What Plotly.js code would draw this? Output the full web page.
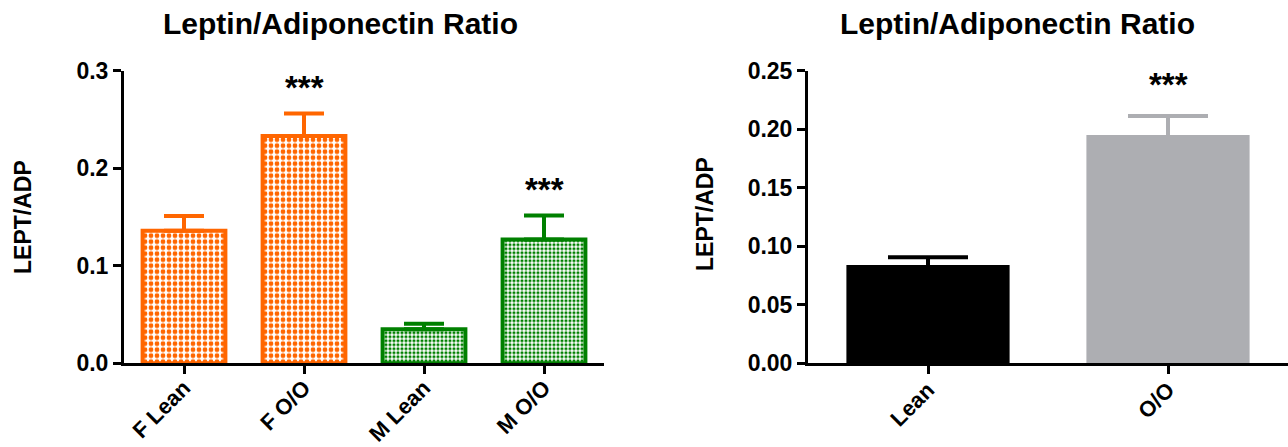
<!DOCTYPE html>
<html><head><meta charset="utf-8">
<script src="https://cdn.plot.ly/plotly-3.0.1.min.js"></script>
<style>html,body{margin:0;padding:0;background:#fff;} #chart{width:1288px;height:447px;}</style>
</head><body><div id="chart"></div>
<script>
// ---- data ----
const leftCategories = ['F Lean', 'F O/O', 'M Lean', 'M O/O'];
const femaleCategories = ['F Lean', 'F O/O'];
const femaleValues = [0.136, 0.233];
const femaleErrors = [0.015, 0.023];
const maleCategories = ['M Lean', 'M O/O'];
const maleValues = [0.035, 0.127];
const maleErrors = [0.0055, 0.0245];
const leftSig = ['', '***', '', '***'];
const leftTicks = [0, 0.1, 0.2, 0.3];

const rightCategories = ['Lean', 'O/O'];
const rightValues = [0.084, 0.195];
const rightErrors = [0.0067, 0.0162];
const rightSig = ['', '***'];
const rightTicks = [0, 0.05, 0.10, 0.15, 0.20, 0.25];

const chartTitle = 'Leptin/Adiponectin Ratio';
const yTitle = 'LEPT/ADP';

// ---- styling ----
const W = 1288, H = 447;
const FONT = 'Liberation Sans, Arial, Helvetica, sans-serif';
const ORANGE = '#FF6600', GREEN = '#008000', BLACK = '#000000', GREY = '#ADAEB2';
const px = v => v / W, py = v => (H - v) / H;
const yDomain = [py(363.3), py(70.7)];

function barTrace(cats, vals, errs, color, xa, ya, pattern, lineW, errW, hiddenMinus) {
  return {
    type: 'bar', x: cats, y: vals, xaxis: xa, yaxis: ya,
    width: 0.69,
    marker: {
      color: color,
      line: {color: color, width: lineW},
      pattern: pattern
    },
    // lower whisker kept inside the bar (same colour) so only the upper whisker shows
    error_y: {type: 'data', symmetric: false, array: errs, arrayminus: errs.map(() => hiddenMinus),
              color: color, thickness: 4, width: errW},
    hoverinfo: 'x+y', showlegend: false
  };
}

const data = [
  barTrace(femaleCategories, femaleValues, femaleErrors, ORANGE, 'x', 'y',
    {shape: '.', fillmode: 'replace', bgcolor: '#ffffff', fgcolor: ORANGE, size: 6, solidity: 0.5}, 4, 20, 0),
  barTrace(maleCategories, maleValues, maleErrors, GREEN, 'x', 'y',
    {shape: '.', fillmode: 'replace', bgcolor: '#ffffff', fgcolor: GREEN, size: 4, solidity: 0.5}, 4, 20, 0),
  barTrace([rightCategories[0]], [rightValues[0]], [rightErrors[0]], BLACK, 'x2', 'y2', {shape: ''}, 0, 40, 0.004),
  barTrace([rightCategories[1]], [rightValues[1]], [rightErrors[1]], GREY, 'x2', 'y2', {shape: ''}, 0, 40, 0.004)
];
data[2].width = 0.68; data[3].width = 0.68;

const axisCommon = {
  showline: true, linecolor: '#000', linewidth: 3, showgrid: false, zeroline: false,
  ticks: 'outside', ticklen: 8, tickwidth: 3, tickcolor: '#000', fixedrange: true
};

const annotations = [];
// titles
[[340, chartTitle], [1017, chartTitle]].forEach(([x, t]) => annotations.push({
  xref: 'paper', yref: 'paper', x: px(x), y: py(23), xanchor: 'center', yanchor: 'middle',
  text: t, showarrow: false, font: {family: FONT, size: 30, color: '#000', weight: 'bold'}
}));
// y titles
[[23, 217], [705, 214]].forEach(([x, y]) => annotations.push({
  xref: 'paper', yref: 'paper', x: px(x), y: py(y), xanchor: 'center', yanchor: 'middle',
  text: yTitle, textangle: -90, showarrow: false, font: {family: FONT, size: 23, color: '#000', weight: 'bold'}
}));
// significance stars
const allLeftVals = femaleValues.concat(maleValues), allLeftErrs = femaleErrors.concat(maleErrors);
leftCategories.forEach((c, i) => { if (leftSig[i]) annotations.push({
  xref: 'x', yref: 'y', x: c, y: allLeftVals[i] + allLeftErrs[i], yanchor: 'bottom', yshift: 6,
  text: leftSig[i], showarrow: false, font: {family: FONT, size: 33, color: '#000', weight: 'bold'}
}); });
rightCategories.forEach((c, i) => { if (rightSig[i]) annotations.push({
  xref: 'x2', yref: 'y2', x: c, y: rightValues[i] + rightErrors[i], yanchor: 'bottom', yshift: 11,
  text: rightSig[i], showarrow: false, font: {family: FONT, size: 33, color: '#000', weight: 'bold'}
}); });

const layout = {
  width: W, height: H, margin: {l: 0, r: 0, t: 0, b: 0},
  paper_bgcolor: '#fff', plot_bgcolor: 'rgba(0,0,0,0)',
  barmode: 'overlay', showlegend: false,
  font: {family: FONT, color: '#000'},
  xaxis: Object.assign({}, axisCommon, {
    domain: [px(124), px(604)], anchor: 'y', type: 'category',
    categoryorder: 'array', categoryarray: leftCategories, range: [-0.5, 3.5],
    tickangle: -45, ticklabelstandoff: -8,
    tickfont: {family: FONT, size: 22, weight: 'bold', color: '#000'}
  }),
  yaxis: Object.assign({}, axisCommon, {
    domain: yDomain, anchor: 'x', range: [0, 0.3],
    tickvals: leftTicks, ticktext: leftTicks.map(v => v.toFixed(1)),
    tickfont: {family: FONT, size: 23, weight: 'bold', color: '#000'}
  }),
  xaxis2: Object.assign({}, axisCommon, {
    domain: [px(808), 1], anchor: 'y2', type: 'category',
    categoryorder: 'array', categoryarray: rightCategories, range: [-0.5, 1.5],
    tickangle: -45, ticklabelstandoff: -6,
    tickfont: {family: FONT, size: 22, weight: 'bold', color: '#000'}
  }),
  yaxis2: Object.assign({}, axisCommon, {
    domain: yDomain, anchor: 'x2', range: [0, 0.25],
    tickvals: rightTicks, ticktext: rightTicks.map(v => v.toFixed(2)),
    tickfont: {family: FONT, size: 23, weight: 'bold', color: '#000'}
  }),
  annotations: annotations
};

Plotly.newPlot('chart', data, layout, {displayModeBar: false, staticPlot: true});
</script>
</body></html>
